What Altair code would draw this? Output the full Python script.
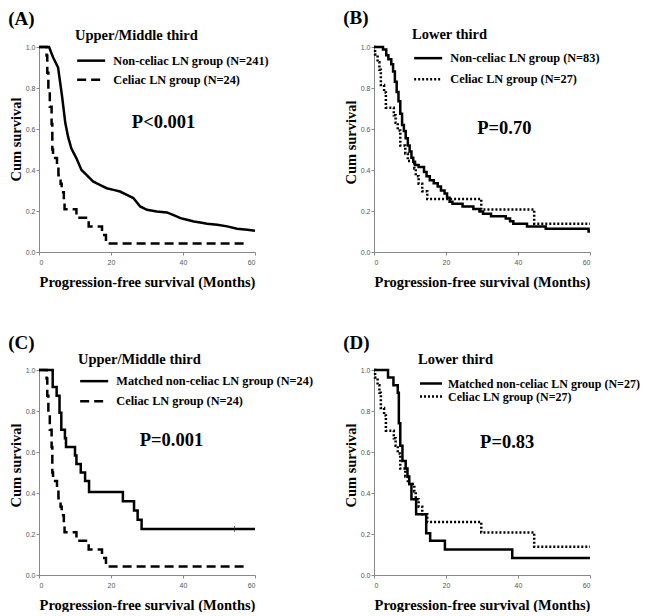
import altair as alt
import pandas as pd

# ---------------- data ----------------
# Panel A: Upper/Middle third
a_non_t = [0, 2.8, 3.9, 5.3, 6.4, 7.3, 8.1, 9.0, 10.4, 11.8, 13.2, 15.0, 16.9, 18.8, 20.7, 22.5,
           24.4, 26.2, 28.1, 30.0, 32.7, 35.5, 37.4, 39.3, 41.1, 43.0, 44.8, 46.7, 49.5, 52.3,
           55.0, 57.9, 60.0]
a_non_s = [1.0, 1.0, 0.95, 0.90, 0.76, 0.63, 0.56, 0.505, 0.457, 0.40, 0.376, 0.344, 0.327, 0.311,
           0.303, 0.295, 0.279, 0.263, 0.222, 0.206, 0.198, 0.193, 0.18, 0.165, 0.157, 0.149,
           0.144, 0.138, 0.133, 0.125, 0.113, 0.109, 0.104]
celiac_ul_t = [0, 2.1, 2.3, 2.6, 3.0, 3.5, 3.7, 3.9, 5.0, 5.4, 6.0, 6.3, 6.9, 7.1, 10.4, 13.8,
               17.5, 18.6, 57.9]
celiac_ul_s = [1.0, 0.958, 0.875, 0.792, 0.708, 0.625, 0.5, 0.458, 0.417, 0.375, 0.333, 0.292,
               0.25, 0.208, 0.167, 0.125, 0.083, 0.042, 0.042]

# Panel B: Lower third
b_non_t = [0, 2.5, 3.4, 4.0, 4.8, 5.3, 5.8, 6.3, 6.8, 7.3, 7.8, 8.3, 8.8, 9.4, 9.9, 10.4, 10.9,
           11.4, 12.4, 13.9, 14.6, 15.5, 16.6, 17.7, 18.6, 19.6, 20.3, 21.0, 21.8, 24.6, 27.6,
           29.3, 30.3, 32.5, 36.6, 37.8, 38.7, 42.5, 47.7, 59.6, 60.0]
b_non_s = [1.0, 0.988, 0.96, 0.94, 0.916, 0.88, 0.83, 0.78, 0.735, 0.675, 0.62, 0.59, 0.555,
           0.52, 0.49, 0.46, 0.44, 0.425, 0.415, 0.39, 0.37, 0.35, 0.335, 0.32, 0.30, 0.285,
           0.265, 0.245, 0.235, 0.222, 0.21, 0.198, 0.187, 0.175, 0.163, 0.15, 0.138, 0.125,
           0.113, 0.10, 0.10]
celiac_lo_t = [0, 0.3, 1.0, 1.5, 1.9, 2.8, 3.3, 5.5, 6.0, 6.6, 7.3, 8.7, 9.4, 11.2, 11.6, 12.4,
               13.4, 14.8, 29.8, 44.5, 60.0]
celiac_lo_s = [1.0, 0.963, 0.926, 0.889, 0.815, 0.778, 0.704, 0.667, 0.63, 0.593, 0.519, 0.481,
               0.444, 0.407, 0.37, 0.333, 0.296, 0.259, 0.207, 0.138, 0.138]

# Panel C: matched, Upper/Middle third
c_non_t = [0, 3.8, 4.9, 5.7, 6.2, 7.2, 7.5, 10.0, 10.4, 11.6, 12.8, 13.9, 23.3, 26.4, 27.4, 28.5, 60.0]
c_non_s = [1.0, 0.917, 0.875, 0.792, 0.708, 0.667, 0.625, 0.583, 0.542, 0.5, 0.458, 0.405, 0.36,
           0.315, 0.27, 0.225, 0.225]
c_censor_t = [54.3]
c_censor_s = [0.225]

# Panel D: matched, Lower third
d_non_t = [0, 3.9, 5.4, 6.6, 6.9, 7.3, 7.9, 8.8, 9.3, 9.8, 10.4, 11.7, 14.5, 15.6, 19.7, 38.4, 60.0]
d_non_s = [1.0, 0.963, 0.926, 0.889, 0.74, 0.63, 0.556, 0.519, 0.481, 0.444, 0.37, 0.296, 0.204,
           0.167, 0.125, 0.083, 0.083]

panel_labels = ["(A)", "(B)", "(C)", "(D)"]
legend_titles = ["Upper/Middle third", "Lower third", "Upper/Middle third", "Lower third"]
group_names = [
    ["Non-celiac LN group (N=241)", "Celiac LN group (N=24)"],
    ["Non-celiac LN group (N=83)", "Celiac LN group (N=27)"],
    ["Matched non-celiac LN group (N=24)", "Celiac LN group (N=24)"],
    ["Matched non-celiac LN group (N=27)", "Celiac LN group (N=27)"],
]
p_texts = ["P<0.001", "P=0.70", "P=0.001", "P=0.83"]
p_t = [34.6, 36.2, 36.8, 37.0]
p_s = [0.634, 0.607, 0.658, 0.649]

x_ticks = [0, 10, 20, 30, 40, 50, 60]
y_ticks = [0.0, 0.2, 0.4, 0.6, 0.8, 1.0]

SERIF = "Liberation Serif"
LONG_SYM = "M-1,0L6,0"     # 28 px line at symbolSize 64
SHORT_SYM = "M-1,0L4.5,0"  # 22 px line at symbolSize 64


def panel(idx, series, interps, dashes, legend_x, legend_y, title_pad, row_pad,
          sym=LONG_SYM, label_offset=26, label_size=12.3, censor=None, ytitle_y=95):
    groups = group_names[idx]
    dash_scale = alt.Scale(domain=groups, range=dashes)
    legend = alt.Legend(
        orient="none", legendX=legend_x, legendY=legend_y,
        title=legend_titles[idx], titleFont=SERIF, titleFontSize=14.5, titleFontWeight="bold",
        titleColor="black", titlePadding=title_pad,
        labelFont=SERIF, labelFontSize=label_size, labelFontWeight="bold", labelColor="black",
        labelOffset=label_offset, labelLimit=400,
        symbolType=sym, symbolSize=64, symbolStrokeWidth=2.5,
        symbolStrokeColor="black", symbolFillColor="transparent",
        rowPadding=row_pad, padding=0,
    )
    x_enc = alt.X("t:Q", scale=alt.Scale(domain=[0, 60], nice=False),
                  axis=alt.Axis(values=x_ticks, format="d",
                                title="Progression-free survival (Months)", titlePadding=10.5,
                                labelPadding=3))
    y_enc = alt.Y("s:Q", scale=alt.Scale(domain=[0, 1], nice=False),
                  axis=alt.Axis(values=y_ticks, format=".1f", title="Cum survival",
                                titlePadding=2, labelPadding=1, titleY=ytitle_y))
    layers = []
    for g, (t, s), interp in zip(groups, series, interps):
        df = pd.DataFrame({"t": t, "s": s, "group": g})
        layers.append(
            alt.Chart(df).mark_line(interpolate=interp, color="black", strokeWidth=2.5)
            .encode(x=x_enc, y=y_enc,
                    strokeDash=alt.StrokeDash("group:N", scale=dash_scale, legend=legend))
        )
    if censor is not None:
        cdf = pd.DataFrame({"t": censor[0], "s": censor[1]})
        layers.append(
            alt.Chart(cdf).mark_tick(orient="vertical", color="#333333", size=6, thickness=1)
            .encode(x="t:Q", y="s:Q")
        )
    pdf = pd.DataFrame({"t": [p_t[idx]], "s": [p_s[idx]], "label": [p_texts[idx]]})
    layers.append(
        alt.Chart(pdf).mark_text(font=SERIF, fontSize=18.5, fontWeight="bold", color="black")
        .encode(x="t:Q", y="s:Q", text="label:N")
    )
    return alt.layer(*layers).properties(
        width=216, height=205,
        title=alt.TitleParams(panel_labels[idx], anchor="start", frame="bounds",
                              font=SERIF, fontSize=19, fontWeight="bold", color="black",
                              offset=0),
    )


solid = []
dashed = [9, 5]
dotted = [2, 2]

pA = panel(0, [(a_non_t, a_non_s), (celiac_ul_t, celiac_ul_s)], ["linear", "step-after"],
           [solid, dashed], 36, -18, 11, 6, ytitle_y=92)
pB = panel(1, [(b_non_t, b_non_s), (celiac_lo_t, celiac_lo_s)], ["step-after", "step-after"],
           [solid, dotted], 38, -19, 9.5, 8)
pC = panel(2, [(c_non_t, c_non_s), (celiac_ul_t, celiac_ul_s)], ["step-after", "step-after"],
           [solid, dashed], 39, -17, 7.5, 7, censor=(c_censor_t, c_censor_s))
pD = panel(3, [(d_non_t, d_non_s), (celiac_lo_t, celiac_lo_s)], ["step-after", "step-after"],
           [solid, dotted], 44, -17, 10, 1, sym=SHORT_SYM, label_offset=18, label_size=12)

chart = alt.concat(pA, pB, pC, pD, columns=2, spacing={"row": 118, "column": 119},
                   bounds="flush").resolve_scale(
    strokeDash="independent").resolve_legend(strokeDash="independent").properties(
    padding={"left": 0, "top": 1, "right": 0, "bottom": 0}
).configure_view(stroke=None).configure_axis(
    grid=False, domainColor="#888888", tickColor="#888888", tickSize=3,
    labelColor="#555555", labelFontSize=7, labelFont="Liberation Sans",
    titleFont=SERIF, titleFontSize=14.5, titleFontWeight="bold", titleColor="black",
)

chart.save("out.html", embed_options={"renderer": "svg", "actions": False})
